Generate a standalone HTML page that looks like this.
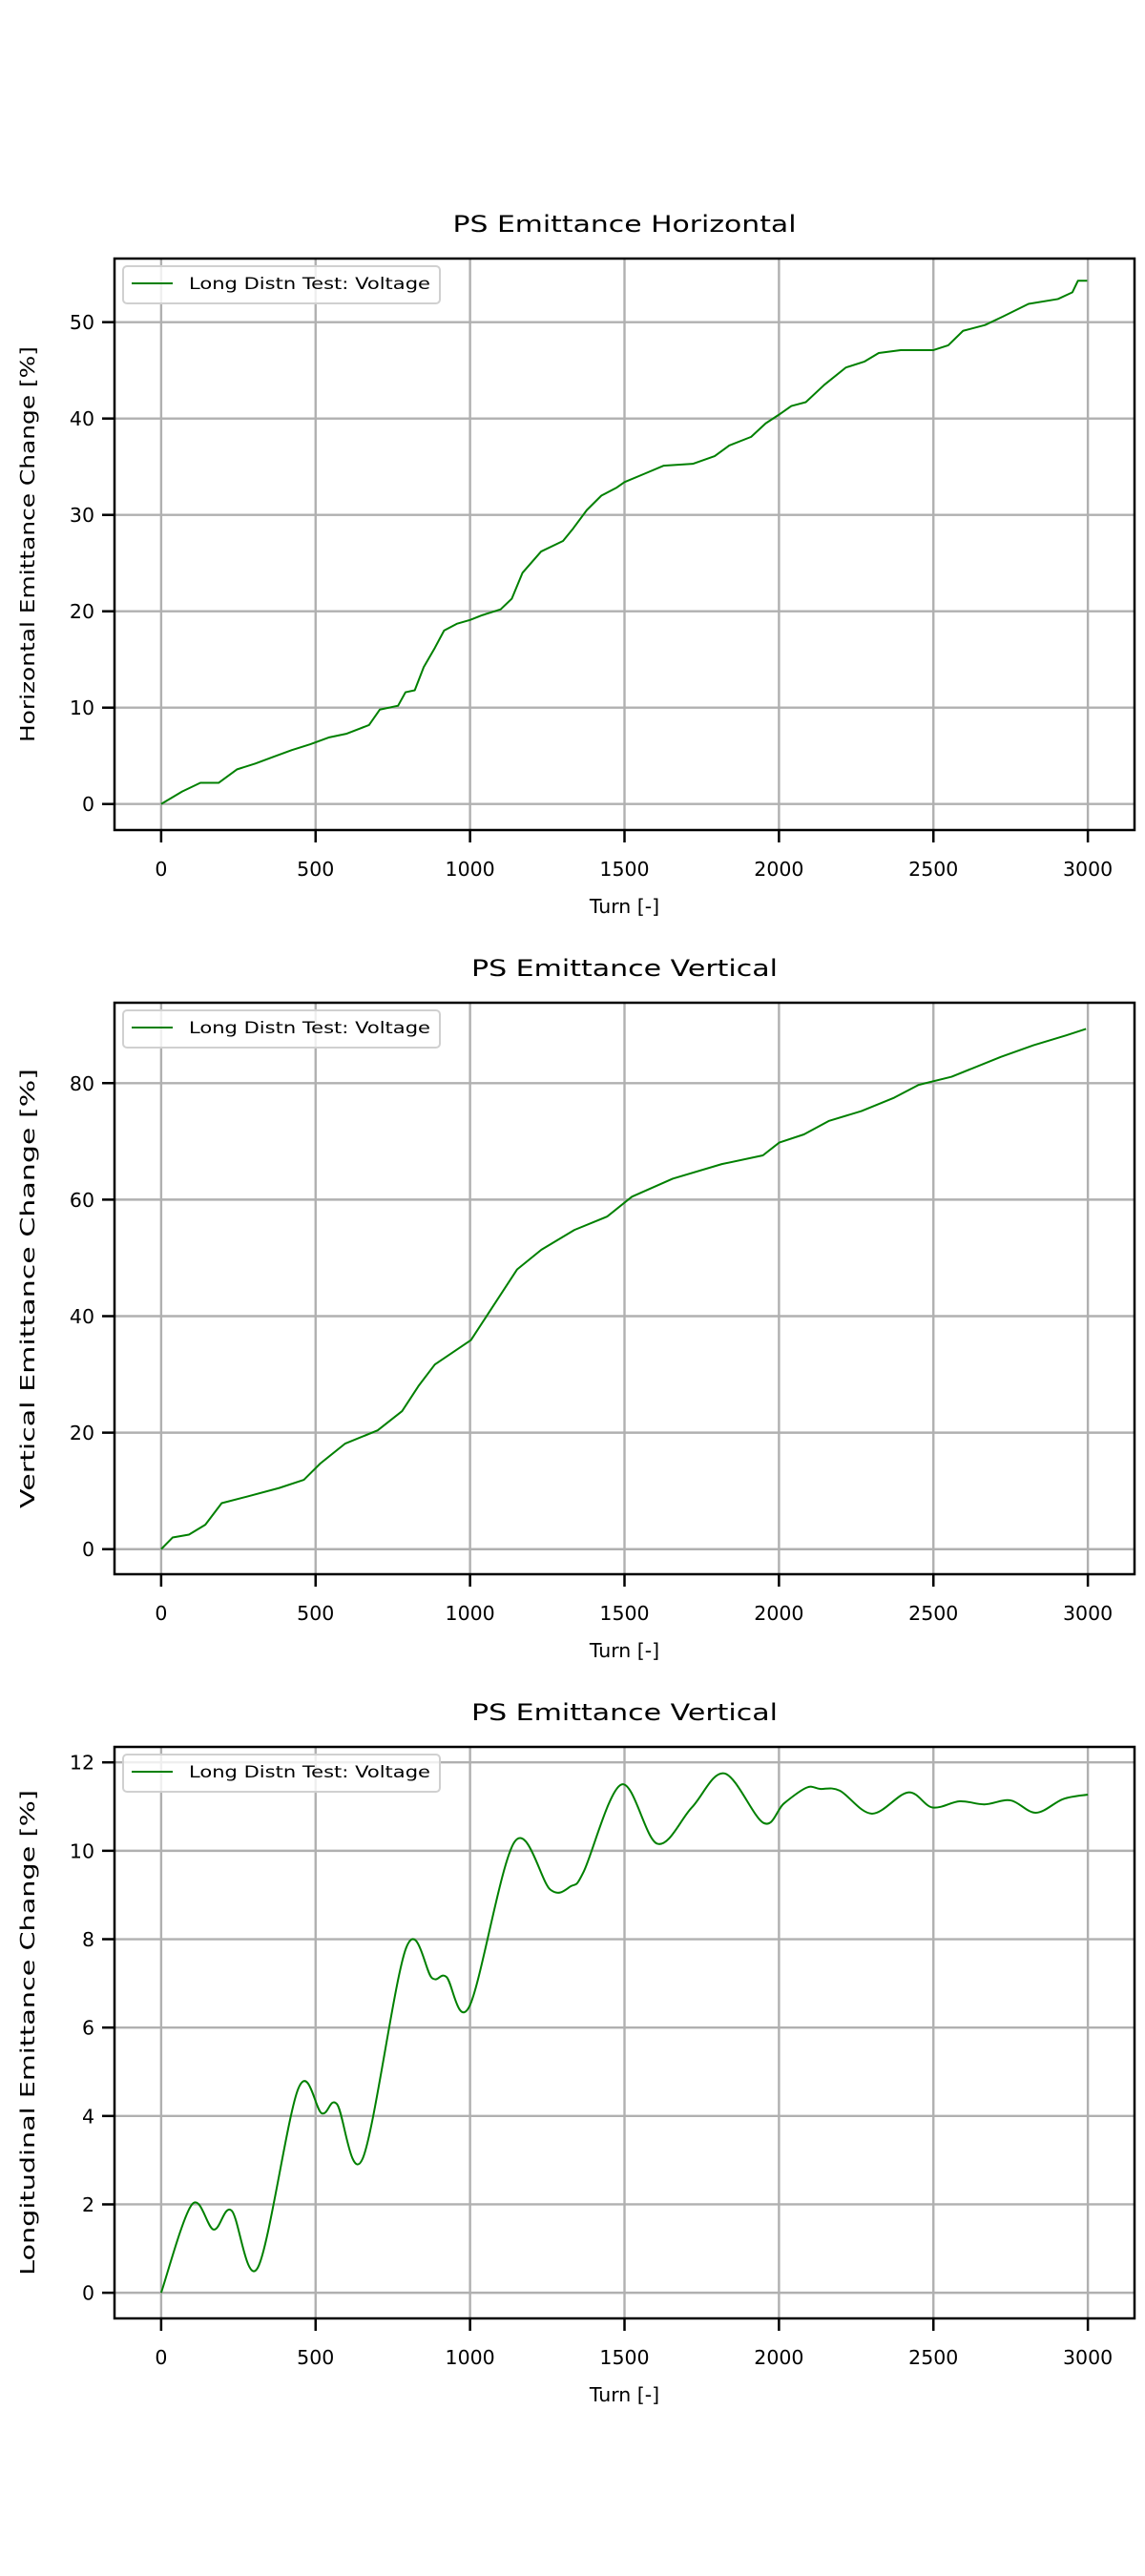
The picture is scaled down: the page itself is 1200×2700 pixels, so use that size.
<!DOCTYPE html>
<html><head><meta charset="utf-8"><style>
html,body{margin:0;padding:0;background:#fff}
svg{display:block}
text{font-family:"DejaVu Sans","Liberation Sans",sans-serif;fill:#000}
</style></head>
<body>
<svg id="fig" width="1200" height="2700" viewBox="0 0 1200 2700" xmlns="http://www.w3.org/2000/svg"></svg>
<script>
// ---- data ----
const xTicks = [0, 500, 1000, 1500, 2000, 2500, 3000];
const hTurns = [0,68,127,186,246,305,364,423,483,542,601,673,708,767,791,821,850,886,916,957,1000,1040,1099,1135,1170,1230,1301,1334,1378,1425,1473,1500,1567,1626,1721,1792,1839,1910,1957,2000,2040,2087,2147,2217,2276,2323,2394,2500,2548,2596,2667,2726,2808,2903,2950,2968,2998];
const hValues = [0,1.3,2.2,2.2,3.6,4.2,4.9,5.6,6.2,6.9,7.3,8.2,9.8,10.2,11.6,11.8,14.2,16.2,18.0,18.7,19.1,19.6,20.2,21.3,24.0,26.2,27.3,28.6,30.5,32.0,32.8,33.4,34.3,35.1,35.3,36.1,37.2,38.1,39.5,40.4,41.3,41.7,43.5,45.3,45.9,46.8,47.1,47.1,47.6,49.1,49.7,50.6,51.9,52.4,53.1,54.3,54.3];
const hYTicks = [0, 10, 20, 30, 40, 50];
const vTurns = [0,37,90,143,196,276,382,462,515,595,701,780,833,886,1003,1072,1152,1231,1338,1444,1524,1656,1815,1948,2001,2081,2161,2267,2373,2452,2559,2718,2824,2930,2994];
const vValues = [0,2,2.5,4.2,7.9,9.0,10.5,11.9,14.7,18.1,20.4,23.7,28,31.7,35.9,41.5,48,51.4,54.8,57.1,60.5,63.6,66.1,67.6,69.8,71.2,73.5,75.2,77.5,79.7,81.1,84.5,86.5,88.2,89.3];
const vYTicks = [0, 20, 40, 60, 80];
const lTurns = [0,100,170,228,313,444,520,569,652,793,877,923,998,1144,1260,1327,1368,1490,1606,1718,1824,1950,2016,2090,2133,2197,2301,2418,2497,2585,2665,2750,2832,2920,3000];
const lValues = [0,2.0,1.43,1.86,0.57,4.62,4.06,4.27,3.03,7.8,7.12,7.15,6.48,10.2,9.12,9.2,9.53,11.5,10.16,10.98,11.75,10.63,11.07,11.43,11.40,11.36,10.84,11.32,10.98,11.12,11.05,11.14,10.86,11.17,11.27];
const lYTicks = [0, 2, 4, 6, 8, 10, 12];

const NS = "http://www.w3.org/2000/svg";
const fig = document.getElementById('fig');
function mk(tag, attrs, parent) {
  const e = document.createElementNS(NS, tag);
  for (const k in attrs) e.setAttribute(k, attrs[k]);
  (parent || fig).appendChild(e);
  return e;
}

function chart(cfg) {
  const L = 120, R = 1189, T = cfg.top, B = cfg.top + 599;
  const x = t => L + (t - (-151)) / 3302 * (R - L);
  const y = v => B - (v - cfg.ymin) / (cfg.ymax - cfg.ymin) * (B - T);
  const g = mk('g', {});
  
  
  xTicks.forEach(t => {
    const l = mk('line', {x1: x(t), x2: x(t), y1: T, y2: B, stroke: '#b0b0b0', 'stroke-width': 2.4}, g);
    
    
  });
  cfg.yticks.forEach(v => {
    const l = mk('line', {x1: L, x2: R, y1: y(v), y2: y(v), stroke: '#b0b0b0', 'stroke-width': 2.4}, g);
    
    
  });
  const pts = cfg.xs.map((t, i) => [x(t), y(cfg.ys[i])]);
  let d;
  if (cfg.smooth) {
    d = 'M' + pts[0][0] + ',' + pts[0][1];
    for (let i = 0; i < pts.length - 1; i++) {
      const p0 = pts[Math.max(0, i - 1)], p1 = pts[i], p2 = pts[i + 1], p3 = pts[Math.min(pts.length - 1, i + 2)];
      const c1x = p1[0] + (p2[0] - p0[0]) / 6, c1y = p1[1] + (p2[1] - p0[1]) / 6;
      const c2x = p2[0] - (p3[0] - p1[0]) / 6, c2y = p2[1] - (p3[1] - p1[1]) / 6;
      d += ` C${c1x},${c1y} ${c2x},${c2y} ${p2[0]},${p2[1]}`;
    }
  } else {
    d = 'M' + pts.map(p => p[0] + ',' + p[1]).join(' L');
  }
  const path = mk('path', {d: d, fill: 'none', stroke: '#008000', 'stroke-width': 2, 'stroke-linejoin': 'round'}, g);
  
  
  const sp = mk('rect', {x: L, y: T, width: R - L, height: B - T, fill: 'none', stroke: '#000', 'stroke-width': 2.5}, g);
  
  
  xTicks.forEach(t => {
    const tk = mk('line', {x1: x(t), x2: x(t), y1: B, y2: B + 13, stroke: '#000', 'stroke-width': 2.5}, g);
    
    
    const tx = mk('text', {x: x(t), y: B + 48, 'font-size': 20.5, 'text-anchor': 'middle'}, g);
    tx.textContent = t;
    
    
  });
  cfg.yticks.forEach(v => {
    const tk = mk('line', {x1: L - 13, x2: L, y1: y(v), y2: y(v), stroke: '#000', 'stroke-width': 2.5}, g);
    
    
    const tx = mk('text', {x: L - 21, y: y(v) + 7.5, 'font-size': 20.5, 'text-anchor': 'end'}, g);
    tx.textContent = v;
    
    
  });
  const ti = mk('text', {x: (L + R) / 2, y: T - 28, 'font-size': 24, 'text-anchor': 'middle', textLength: cfg.titleLen, lengthAdjust: 'spacingAndGlyphs'}, g);
  ti.textContent = cfg.title;
  
  
  const xl = mk('text', {x: (L + R) / 2, y: B + 87, 'font-size': 20.5, 'text-anchor': 'middle'}, g);
  xl.textContent = 'Turn [-]';
  
  
  const cy = (T + B) / 2;
  const yl = mk('text', {x: 29, y: cy, 'font-size': 20.5, 'text-anchor': 'middle', transform: `rotate(-90 29 ${cy}) translate(0 7)`, textLength: cfg.ylabLen, lengthAdjust: 'spacingAndGlyphs'}, g);
  yl.textContent = cfg.ylabel;
  
  
  const lg = mk('g', {}, g);
  
  
  mk('rect', {x: 129, y: T + 8, width: 332, height: 39, rx: 4, fill: 'rgba(255,255,255,0.8)', stroke: '#d0d0d0', 'stroke-width': 2}, lg);
  const ll = mk('line', {x1: 138, x2: 181, y1: T + 26, y2: T + 26, stroke: '#008000', 'stroke-width': 2}, lg);
  
  
  const lt = mk('text', {x: 198, y: T + 32, 'font-size': 17, textLength: 253, lengthAdjust: 'spacingAndGlyphs'}, lg);
  lt.textContent = 'Long Distn Test: Voltage';
  
  
}

chart({name: 'horizontal-emittance-chart', top: 271, xs: hTurns, ys: hValues, yticks: hYTicks,
  ymin: -2.7, ymax: 56.6, title: 'PS Emittance Horizontal', titleLen: 360,
  ylabel: 'Horizontal Emittance Change [%]', ylabLen: 415, smooth: false});
chart({name: 'vertical-emittance-chart', top: 1051, xs: vTurns, ys: vValues, yticks: vYTicks,
  ymin: -4.3, ymax: 93.8, title: 'PS Emittance Vertical', titleLen: 321,
  ylabel: 'Vertical Emittance Change [%]', ylabLen: 461, smooth: false});
chart({name: 'longitudinal-emittance-chart', top: 1831, xs: lTurns, ys: lValues, yticks: lYTicks,
  ymin: -0.58, ymax: 12.35, title: 'PS Emittance Vertical', titleLen: 321,
  ylabel: 'Longitudinal Emittance Change [%]', ylabLen: 509, smooth: true});
</script>
</body></html>
